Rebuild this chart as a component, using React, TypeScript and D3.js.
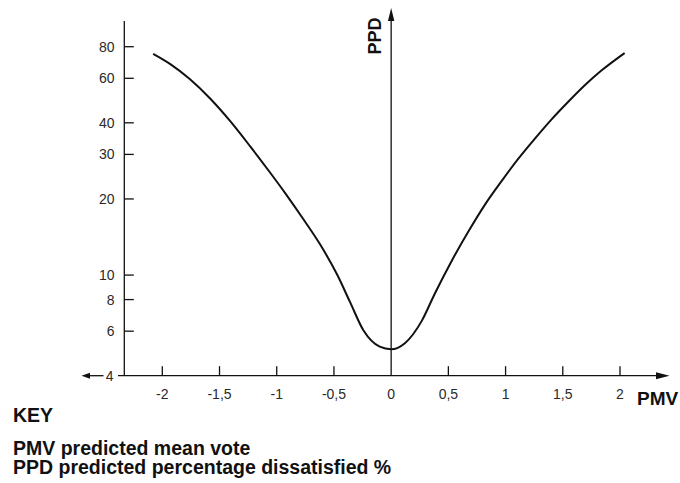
import React from "react";
import * as d3 from "d3";

const pmvValues = [-2.08, -1.93, -1.76, -1.58, -1.41, -1.23, -1.06, -0.92, -0.77, -0.62, -0.47, -0.36, -0.24, -0.1, 0, 0.12, 0.27, 0.38, 0.53, 0.68, 0.82, 0.97, 1.11, 1.26, 1.4, 1.55, 1.69, 1.84, 2.04];
const ppdValues = [75.0, 68.3, 59.6, 49.8, 40.8, 32.2, 25.5, 20.9, 16.7, 13.2, 10.0, 7.83, 6.02, 5.21, 5.09, 5.38, 6.62, 8.42, 11.4, 15.0, 19.0, 23.7, 28.8, 34.8, 41.2, 48.6, 56.2, 64.5, 75.5];

const xTicks = [-2, -1.5, -1, -0.5, 0, 0.5, 1, 1.5, 2];
const yTicks = [6, 8, 10, 20, 30, 40, 60, 80];
const yMinLabel = "4";
const keyTitle = "KEY";
const keyLines = ["PMV predicted mean vote", "PPD predicted percentage dissatisfied %"];

const W = 680;
const H = 483;

export default function App() {
  const x = d3.scaleLinear().domain([-2, 2]).range([162.3, 620]);
  const y = d3.scaleLog().domain([4, 80]).range([375.7, 46.7]);
  const data = pmvValues.map((v, i) => [v, ppdValues[i]] as [number, number]);
  const line = d3
    .line<[number, number]>()
    .x((d) => x(d[0]))
    .y((d) => y(d[1]))
    .curve(d3.curveMonotoneX);

  const axisY = y(4);
  const leftX = 124.3;
  const zeroX = x(0);
  const fmt = (v: number) => String(v).replace(".", ",");
  const font = "Liberation Sans, Arial, sans-serif";
  const stroke = "#111";

  return (
    <svg width={W} height={H} style={{ position: "absolute", left: 0, top: 0, background: "#fff" }} fontFamily={font}>
      {/* left y axis */}
      <line x1={leftX} y1={21} x2={leftX} y2={axisY} stroke={stroke} strokeWidth={1.3} />
      {yTicks.map((t) => (
        <g key={t}>
          <line x1={leftX} x2={leftX + 9.5} y1={y(t)} y2={y(t)} stroke={stroke} strokeWidth={1.3} />
          <text x={114.5} y={y(t)} dy="0.36em" textAnchor="end" fontSize={14} fill="#2a2a2a">
            {t}
          </text>
        </g>
      ))}
      {/* x axis */}
      <line x1={118} y1={axisY} x2={662} y2={axisY} stroke={stroke} strokeWidth={1.3} />
      <path d={`M${669.5},${axisY} L${656},${axisY - 3.5} L${656},${axisY + 3.5} Z`} fill={stroke} />
      {/* left arrow */}
      <line x1={86} y1={axisY} x2={103.5} y2={axisY} stroke={stroke} strokeWidth={1.3} />
      <path d={`M${81.5},${axisY} L${90},${axisY - 3} L${90},${axisY + 3} Z`} fill={stroke} />
      <text x={113.5} y={axisY} dy="0.36em" textAnchor="end" fontSize={14} fill="#2a2a2a">
        {yMinLabel}
      </text>
      {xTicks.map((t) => (
        <g key={t}>
          {t !== 0 && <line x1={x(t)} x2={x(t)} y1={axisY} y2={axisY - 9.5} stroke={stroke} strokeWidth={1.3} />}
          <text x={x(t)} y={399.3} textAnchor="middle" fontSize={14} fill="#2a2a2a">
            {fmt(t)}
          </text>
        </g>
      ))}
      <text x={637} y={405} fontSize={19} fontWeight="bold" fill="#111">
        PMV
      </text>
      {/* vertical PPD axis */}
      <line x1={zeroX} y1={16} x2={zeroX} y2={axisY} stroke={stroke} strokeWidth={1.3} />
      <path d={`M${zeroX},${8} L${zeroX - 3.2},${21} L${zeroX + 3.2},${21} Z`} fill={stroke} />
      <text
        transform={`translate(${380.5},${36}) rotate(-90)`}
        textAnchor="middle"
        fontSize={18}
        fontWeight="bold"
        fill="#111"
      >
        PPD
      </text>
      {/* curve */}
      <path d={line(data) || ""} fill="none" stroke={stroke} strokeWidth={2} />
      {/* key */}
      <text x={13} y={421.7} fontSize={19.5} fontWeight="bold" fill="#111">
        {keyTitle}
      </text>
      {keyLines.map((l, i) => (
        <text key={l} x={13} y={454.5 + i * 19} fontSize={19.5} fontWeight="bold" fill="#111">
          {l}
        </text>
      ))}
    </svg>
  );
}
